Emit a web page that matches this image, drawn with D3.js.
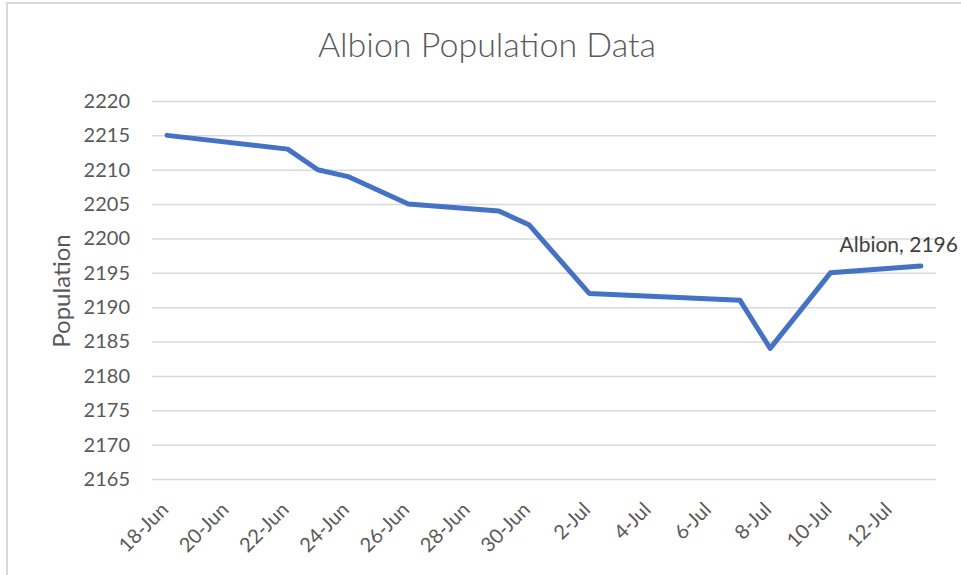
<!DOCTYPE html>
<html>
<head>
<meta charset="utf-8">
<script src="https://cdn.jsdelivr.net/npm/d3@7"></script>
<style>
  body { margin: 0; background: #fff; }
  svg { display: block; font-family: Lato, "Open Sans", sans-serif; }
</style>
</head>
<body>
<div id="chart"></div>
<script>

// data
var dates = ['2021-06-18', '2021-06-22', '2021-06-23', '2021-06-24', '2021-06-26',
             '2021-06-29', '2021-06-30', '2021-07-02', '2021-07-07', '2021-07-08',
             '2021-07-10', '2021-07-13'];
var population = [2215, 2213, 2210, 2209, 2205, 2204, 2202, 2192, 2191, 2184, 2195, 2196];
var yTickValues = [2165, 2170, 2175, 2180, 2185, 2190, 2195, 2200, 2205, 2210, 2215, 2220];
var xTickDates = ['2021-06-18', '2021-06-20', '2021-06-22', '2021-06-24', '2021-06-26',
                  '2021-06-28', '2021-06-30', '2021-07-02', '2021-07-04', '2021-07-06',
                  '2021-07-08', '2021-07-10', '2021-07-12'];
var seriesName = 'Albion';
var chartTitle = 'Albion Population Data';
var yTitle = 'Population';

var width = 961;
var height = 575;
var plotLeft = 152, plotRight = 936, plotTop = 101, plotBottom = 479;

var parse = d3.timeParse('%Y-%m-%d');
var data = dates.map(function(d, i) {
    return { date: parse(d), value: population[i] };
});

var svg = d3.select('#chart')
    .append('svg')
        .attr('width', width)
        .attr('height', height);

// chart frame
svg.append('path')
    .attr('d', 'M7,' + height + 'V3H' + width)
    .attr('fill', 'none')
    .attr('stroke', '#d9d9d9')
    .attr('stroke-width', 2);

var x = d3.scaleTime()
    .domain([d3.timeHour.offset(parse('2021-06-18'), -12), d3.timeHour.offset(parse('2021-07-13'), 12)])
    .range([plotLeft, plotRight]);

var y = d3.scaleLinear()
    .domain([2165, 2220])
    .range([plotBottom, plotTop]);

// gridlines
var yAxis = d3.axisLeft(y)
    .tickValues(yTickValues)
    .tickSize(-(plotRight - plotLeft))
    .tickPadding(22)
    .tickFormat(d3.format('d'));

svg.append('g')
    .attr('transform', 'translate(' + plotLeft + ',0)')
    .call(yAxis)
    .call(function(g) {
        g.select('.domain').remove();
        g.selectAll('line').attr('stroke', '#d9d9d9').attr('stroke-width', 1.5);
        g.selectAll('text')
            .attr('fill', '#595959')
            .style('font-size', '20px')
            .style('font-family', 'Lato, "Open Sans", sans-serif');
    });

// x axis labels
var xAxis = d3.axisBottom(x)
    .tickValues(xTickDates.map(parse))
    .tickSize(0)
    .tickFormat(d3.timeFormat('%-d-%b'));

svg.append('g')
    .attr('transform', 'translate(0,' + plotBottom + ')')
    .call(xAxis)
    .call(function(g) {
        g.select('.domain').remove();
        g.selectAll('text')
            .attr('fill', '#595959')
            .style('font-size', '20px')
            .style('font-family', 'Lato, "Open Sans", sans-serif')
            .attr('text-anchor', 'end')
            .attr('y', 0)
            .attr('dy', '0.35em')
            .attr('transform', 'translate(-3,27) rotate(-45)');
    });

// series line
svg.append('path')
    .datum(data)
    .attr('fill', 'none')
    .attr('stroke', '#4472c4')
    .attr('stroke-width', 5)
    .attr('stroke-linejoin', 'round')
    .attr('stroke-linecap', 'round')
    .attr('d', d3.line()
        .x(function(d) { return x(d.date); })
        .y(function(d) { return y(d.value); })
    );

// label on last point
var last = data[data.length - 1];
svg.append('text')
    .attr('x', x(last.date) + 37)
    .attr('y', y(last.value) - 14)
    .attr('text-anchor', 'end')
    .attr('fill', '#404040')
    .style('font-size', '21px')
    .text(seriesName + ', ' + last.value);

// titles
svg.append('text')
    .attr('x', 487)
    .attr('y', 57)
    .attr('text-anchor', 'middle')
    .attr('fill', '#595959')
    .style('font-size', '34px')
    .style('font-weight', 300)
    .text(chartTitle);

svg.append('text')
    .attr('transform', 'translate(70,' + ((plotTop + plotBottom) / 2 + 1) + ') rotate(-90)')
    .attr('text-anchor', 'middle')
    .attr('fill', '#595959')
    .style('font-size', '24px')
    .text(yTitle);

</script>
</body>
</html>
